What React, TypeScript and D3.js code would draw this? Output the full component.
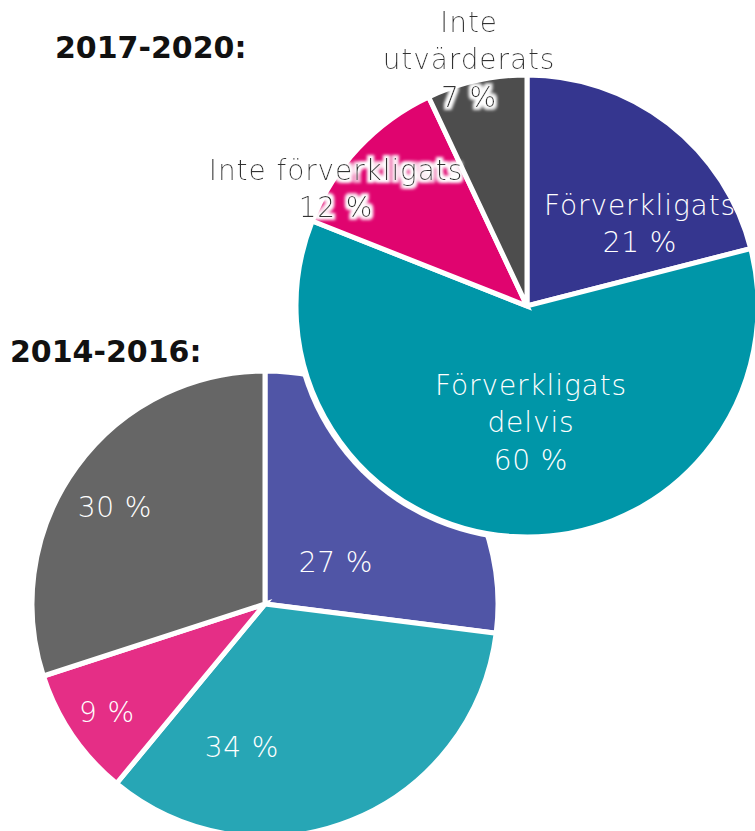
import React from 'react';
import * as d3 from 'd3';

// 2017-2020 (top right pie)
const topLabels = ['Förverkligats', 'Förverkligats delvis', 'Inte förverkligats', 'Inte utvärderats'];
const topValues = [21, 60, 12, 7];
const topColors = ['#35368f', '#0096a8', '#e0046f', '#4d4d4d'];

// 2014-2016 (bottom left pie)
const bottomLabels = ['Förverkligats', 'Förverkligats delvis', 'Inte förverkligats', 'Inte utvärderats'];
const bottomValues = [27, 34, 9, 30];
const bottomColors = ['#5055a6', '#27a6b5', '#e52e86', '#666666'];

const WIDTH = 755;
const HEIGHT = 831;
const FONT = '"DejaVu Sans", sans-serif';

interface SliceText {
  lines: string[];
  dx: number;
  dy: number;
  outside?: boolean;
}

// label offsets from pie centre
const topText: SliceText[] = [
  { lines: ['Förverkligats', '21 %'], dx: 113, dy: -101 },
  { lines: ['Förverkligats', 'delvis', '60 %'], dx: 4, dy: 79 },
  { lines: ['Inte förverkligats', '12 %'], dx: -191, dy: -136, outside: true },
  { lines: ['Inte', 'utvärderats', '7 %'], dx: -58, dy: -284, outside: true },
];
const bottomText: SliceText[] = [
  { lines: ['27 %'], dx: 71, dy: -42 },
  { lines: ['34 %'], dx: -23, dy: 143 },
  { lines: ['9 %'], dx: -158, dy: 108 },
  { lines: ['30 %'], dx: -150, dy: -97 },
];

const pie = d3.pie<number>().sort(null).value(d => d);

const Pie: React.FC<{
  cx: number; cy: number; r: number;
  values: number[]; colors: string[]; names: string[];
  texts: SliceText[]; outline?: boolean;
}> = ({ cx, cy, r, values, colors, names, texts, outline }) => {
  const arc = d3.arc<d3.PieArcDatum<number>>().innerRadius(0).outerRadius(r);
  const lineH = 37.5;
  return (
    <g transform={`translate(${cx},${cy})`}>
      {outline && <circle r={r + 4} fill="white" />}
      {pie(values).map((d, i) => (
        <path key={names[i]} d={arc(d) || ''} fill={colors[i]} stroke="white" strokeWidth={5} strokeLinejoin="miter" />
      ))}
      {texts.map((t, i) => (
        <text
          key={i}
          x={t.dx}
          y={t.dy}
          textAnchor="middle"
          fontFamily={FONT}
          fontWeight={200}
          fontSize={28}
          letterSpacing={0.9}
          fill={t.outside ? '#333' : 'white'}
          filter={t.outside ? 'url(#halo)' : undefined}
        >
          {t.lines.map((l, j) => (
            <tspan key={j} x={t.dx} y={t.dy + j * lineH} dominantBaseline="central">{l}</tspan>
          ))}
        </text>
      ))}
    </g>
  );
};

export default function App() {
  return (
    <div style={{ position: 'absolute', left: 0, top: 0 }}>
      <svg width={WIDTH} height={HEIGHT} style={{ display: 'block', background: 'white' }}>
        <defs>
          <filter id="halo" x="-20%" y="-60%" width="140%" height="220%">
            <feMorphology in="SourceAlpha" operator="dilate" radius="3" result="d" />
            <feGaussianBlur in="d" stdDeviation="1.5" result="b" />
            <feFlood floodColor="white" />
            <feComposite in2="b" operator="in" result="h" />
            <feMerge>
              <feMergeNode in="h" />
              <feMergeNode in="SourceGraphic" />
            </feMerge>
          </filter>
        </defs>
        <Pie cx={265} cy={604} r={233} values={bottomValues} colors={bottomColors} names={bottomLabels} texts={bottomText} />
        <Pie cx={527} cy={306} r={231} values={topValues} colors={topColors} names={topLabels} texts={topText} outline />
        <text x={55} y={58} fontFamily={FONT} fontWeight={700} fontSize={30} fill="#111">2017-2020:</text>
        <text x={10} y={362} fontFamily={FONT} fontWeight={700} fontSize={30} fill="#111">2014-2016:</text>
      </svg>
    </div>
  );
}
